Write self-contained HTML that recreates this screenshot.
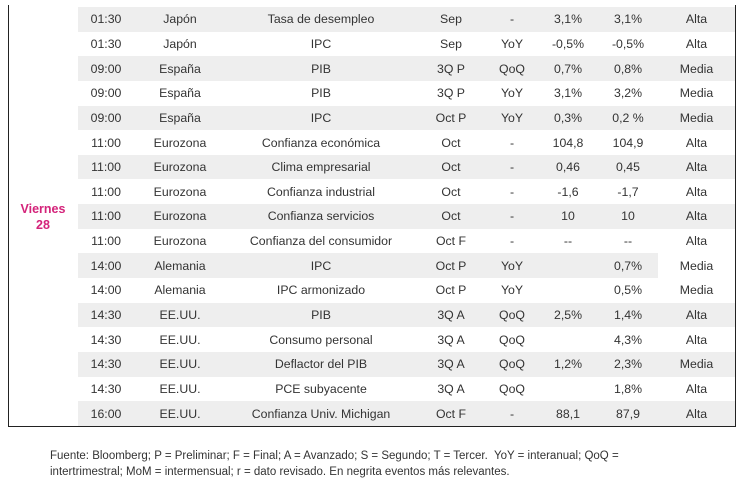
<!DOCTYPE html>
<html><head><meta charset="utf-8">
<style>
body{margin:0;width:746px;height:488px;background:#fff;font-family:"Liberation Sans",sans-serif;color:#333;position:relative;overflow:hidden}
#box{position:absolute;left:8px;top:5px;width:728px;height:422px;border:1px solid #222;border-top:none;box-sizing:border-box}
#day{position:absolute;left:8px;top:201px;width:70px;text-align:center;color:#d4237a;font-size:12.5px;font-weight:bold;line-height:16px}
table{position:absolute;left:78px;top:7px;width:657px;border-collapse:collapse;font-size:12.3px}
td{height:24.65px;padding:0;text-align:center;white-space:nowrap}
tr:nth-child(odd) td{background:#eeeeee}
.w{background:#fff!important}
#foot{position:absolute;left:50px;top:448px;font-size:11.5px;line-height:16px;color:#333;width:640px}
</style></head><body>
<div id="box"></div>
<div id="day">Viernes<br>28</div>
<table>
<colgroup><col style="width:56px"><col style="width:92px"><col style="width:190px"><col style="width:70px"><col style="width:52px"><col style="width:60px"><col style="width:60px"><col style="width:77px"></colgroup>
<tr><td>01:30</td><td>Japón</td><td>Tasa de desempleo</td><td>Sep</td><td>-</td><td>3,1%</td><td>3,1%</td><td>Alta</td></tr>
<tr><td>01:30</td><td>Japón</td><td>IPC</td><td>Sep</td><td>YoY</td><td>-0,5%</td><td>-0,5%</td><td>Alta</td></tr>
<tr><td>09:00</td><td>España</td><td>PIB</td><td>3Q P</td><td>QoQ</td><td>0,7%</td><td>0,8%</td><td>Media</td></tr>
<tr><td>09:00</td><td>España</td><td>PIB</td><td>3Q P</td><td>YoY</td><td>3,1%</td><td>3,2%</td><td>Media</td></tr>
<tr><td>09:00</td><td>España</td><td>IPC</td><td>Oct P</td><td>YoY</td><td>0,3%</td><td>0,2 %</td><td>Media</td></tr>
<tr><td>11:00</td><td>Eurozona</td><td>Confianza económica</td><td>Oct</td><td>-</td><td>104,8</td><td>104,9</td><td>Alta</td></tr>
<tr><td>11:00</td><td>Eurozona</td><td>Clima empresarial</td><td>Oct</td><td>-</td><td>0,46</td><td>0,45</td><td>Alta</td></tr>
<tr><td>11:00</td><td>Eurozona</td><td>Confianza industrial</td><td>Oct</td><td>-</td><td>-1,6</td><td>-1,7</td><td>Alta</td></tr>
<tr><td>11:00</td><td>Eurozona</td><td>Confianza servicios</td><td>Oct</td><td>-</td><td>10</td><td>10</td><td>Alta</td></tr>
<tr><td>11:00</td><td>Eurozona</td><td>Confianza del consumidor</td><td>Oct F</td><td>-</td><td>--</td><td>--</td><td>Alta</td></tr>
<tr><td>14:00</td><td>Alemania</td><td>IPC</td><td>Oct P</td><td>YoY</td><td></td><td>0,7%</td><td class="w">Media</td></tr>
<tr><td>14:00</td><td>Alemania</td><td>IPC armonizado</td><td>Oct P</td><td>YoY</td><td></td><td>0,5%</td><td>Media</td></tr>
<tr><td>14:30</td><td>EE.UU.</td><td>PIB</td><td>3Q A</td><td>QoQ</td><td>2,5%</td><td>1,4%</td><td>Alta</td></tr>
<tr><td>14:30</td><td>EE.UU.</td><td>Consumo personal</td><td>3Q A</td><td>QoQ</td><td></td><td>4,3%</td><td>Alta</td></tr>
<tr><td>14:30</td><td>EE.UU.</td><td>Deflactor del PIB</td><td>3Q A</td><td>QoQ</td><td>1,2%</td><td>2,3%</td><td>Media</td></tr>
<tr><td>14:30</td><td>EE.UU.</td><td>PCE subyacente</td><td>3Q A</td><td>QoQ</td><td></td><td>1,8%</td><td>Alta</td></tr>
<tr><td>16:00</td><td>EE.UU.</td><td>Confianza Univ. Michigan</td><td>Oct F</td><td>-</td><td>88,1</td><td>87,9</td><td>Alta</td></tr>
</table>
<div id="foot">Fuente: Bloomberg; P = Preliminar; F = Final; A = Avanzado; S = Segundo; T = Tercer.&nbsp; YoY = interanual; QoQ = intertrimestral; MoM = intermensual; r = dato revisado. En negrita eventos más relevantes.</div>
</body></html>
